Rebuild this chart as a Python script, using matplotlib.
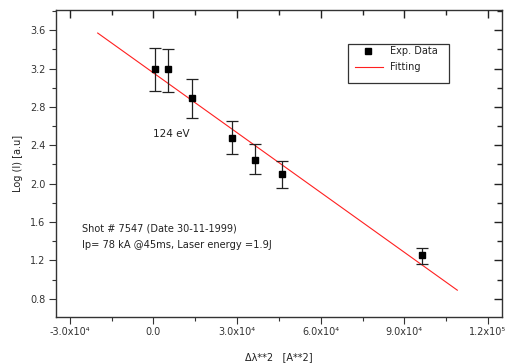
import numpy as np
import matplotlib.pyplot as plt
from matplotlib.ticker import MultipleLocator, FixedLocator
from matplotlib.patches import Rectangle

plt.rcParams['font.family'] = ['DejaVu Sans']

# experimental points
x_data = [400, 5100, 14000, 28000, 36400, 46200, 96500]
y_data = [3.20, 3.19, 2.89, 2.48, 2.25, 2.10, 1.26]
y_err_hi = [0.21, 0.21, 0.20, 0.17, 0.16, 0.14, 0.07]
y_err_lo = [0.23, 0.23, 0.21, 0.17, 0.15, 0.15, 0.10]

# linear fit end points
fit_x = [-20000, 109000]
fit_y = [3.57, 0.89]

x_ticks = [-30000, 0, 30000, 60000, 90000, 120000]
x_tick_labels = ['-3.0x10⁴', '0.0', '3.0x10⁴', '6.0x10⁴', '9.0x10⁴', '1.2x10⁵']
y_ticks = [0.8, 1.2, 1.6, 2.0, 2.4, 2.8, 3.2, 3.6]

xlim = (-35000, 125000)
ylim = (0.61, 3.81)
rect = [0.110, 0.129, 0.878, 0.8435]

fig = plt.figure(figsize=(5.08, 3.64), dpi=100)
ax = fig.add_axes(rect)

ax.plot(fit_x, fit_y, color='#ff2020', lw=0.8, zorder=2)
ax.errorbar(x_data, y_data, yerr=[y_err_lo, y_err_hi], fmt='s', color='black',
            ms=4.2, ecolor='#222222', elinewidth=0.9, capsize=4.5, capthick=0.9,
            zorder=3)

ax.set_xlim(*xlim)
ax.set_ylim(*ylim)

ax.xaxis.set_major_locator(FixedLocator(x_ticks))
ax.set_xticklabels(x_tick_labels)
ax.xaxis.set_minor_locator(MultipleLocator(15000))
ax.yaxis.set_major_locator(FixedLocator(y_ticks))
ax.set_yticklabels([f'{v:.1f}' for v in y_ticks])
ax.yaxis.set_minor_locator(MultipleLocator(0.2))

ax.tick_params(which='both', direction='out', colors='#333333', labelsize=7,
               top=False, right=False)
ax.tick_params(which='major', length=5, width=0.8)
ax.tick_params(axis='x', which='major', pad=2)
ax.tick_params(axis='y', which='major', pad=2.5)
ax.tick_params(which='minor', length=3, width=0.8)

for s in ax.spines.values():
    s.set_linewidth(1.0)
    s.set_color('#333333')

# overlay axes carrying the inward ticks of the top and right sides
ov = fig.add_axes(rect, zorder=5)
ov.patch.set_visible(False)
ov.set_xlim(*xlim)
ov.set_ylim(*ylim)
for s in ov.spines.values():
    s.set_visible(False)
ov.xaxis.set_ticks_position('top')
ov.yaxis.set_ticks_position('right')
ov.xaxis.set_major_locator(FixedLocator(x_ticks))
ov.xaxis.set_minor_locator(MultipleLocator(15000))
ov.yaxis.set_major_locator(FixedLocator(y_ticks))
ov.yaxis.set_minor_locator(MultipleLocator(0.2))
ov.tick_params(which='both', direction='in', color='#222222',
               labeltop=False, labelbottom=False, labelleft=False, labelright=False)
ov.tick_params(which='major', length=6, width=1.0)
ov.tick_params(which='minor', length=3.5, width=1.0)

ax.set_xlabel('Δλ**2   [A**2]', fontsize=7, color='#222222', labelpad=11)
ax.set_ylabel('Log (I) [a.u]', fontsize=7, color='#222222', labelpad=5)

ax.text(0, 2.52, '124 eV', fontsize=7.5, color='#222222', va='center')
ax.text(-25700, 1.53, 'Shot # 7547 (Date 30-11-1999)', fontsize=7, color='#222222', va='center')
ax.text(-25700, 1.36, 'Ip= 78 kA @45ms, Laser energy =1.9J', fontsize=7.1, color='#222222', va='center')

# legend box drawn by hand (axes fraction coordinates)
tr = ax.transAxes
ax.add_patch(Rectangle((0.655, 0.762), 0.226, 0.128, transform=tr, fill=False,
                       edgecolor='#333333', lw=0.9, zorder=5))
ax.plot([0.700], [0.866], 's', color='black', ms=4.2, transform=tr, zorder=5)
ax.text(0.749, 0.866, 'Exp. Data', transform=tr, fontsize=7, color='#222222', va='center')
ax.plot([0.670, 0.733], [0.814, 0.814], color='#ff2020', lw=0.8, transform=tr, zorder=5)
ax.text(0.749, 0.814, 'Fitting', transform=tr, fontsize=7, color='#222222', va='center')

fig.savefig('out.png', dpi=100)
